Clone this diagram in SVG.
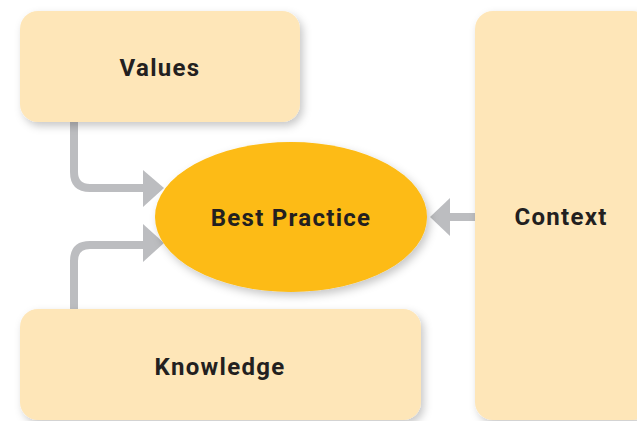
<svg xmlns="http://www.w3.org/2000/svg" width="637" height="421" viewBox="0 0 637 421">
<defs>
<style>
.box{fill:#FEE6B8;filter:url(#sh);}
.lbl{font-family:Roboto,"Liberation Sans",sans-serif;font-weight:bold;font-size:24px;fill:#231F20;text-anchor:middle;dominant-baseline:central;letter-spacing:1.3px;}
.con{fill:none;stroke:#BCBDC0;stroke-width:8;}
.head{fill:#BCBDC0;}
</style>
<filter id="sh" x="-20%" y="-20%" width="140%" height="140%">
<feDropShadow dx="3" dy="4" stdDeviation="4" flood-color="#000" flood-opacity="0.22"/>
</filter>
</defs>
<rect width="637" height="421" fill="#FFFFFF"/>
<g id="connectors">
<path class="con" d="M74,118 V172 Q74,188 90,188 H145"/>
<polygon class="head" points="143,170 164,188 143,207"/>
<path class="con" d="M74,312 V261 Q74,245 90,245 H145"/>
<polygon class="head" points="143,224 164,243 143,262"/>
<path class="con" d="M478,217 H448"/>
<polygon class="head" points="450,198 430,217 450,236"/>
</g>
<g id="values">
<rect class="box" x="20" y="11" width="280" height="111" rx="18"/>
<text class="lbl" x="160" y="68">Values</text>
</g>
<g id="knowledge">
<rect class="box" x="20" y="309" width="401" height="111" rx="18"/>
<text class="lbl" x="220" y="367">Knowledge</text>
</g>
<g id="context">
<rect class="box" x="475" y="11" width="175" height="409" rx="18"/>
<text class="lbl" x="561" y="217">Context</text>
</g>
<g id="best-practice">
<ellipse cx="291" cy="217" rx="136" ry="75" fill="#FDBB13" filter="url(#sh)"/>
<text class="lbl" x="291" y="218">Best Practice</text>
</g>
</svg>
